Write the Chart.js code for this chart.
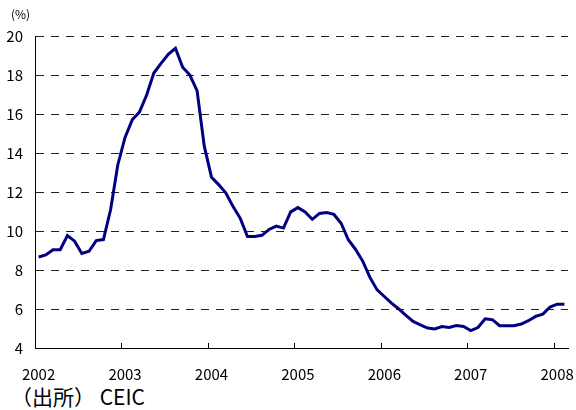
<!DOCTYPE html>
<html lang="ja">
<head>
<meta charset="utf-8">
<script src="https://cdn.jsdelivr.net/npm/chart.js@4/dist/chart.umd.min.js"></script>
<style>
    body { margin: 0; background: #fff; }
    #wrap { position: relative; width: 576px; height: 410px; font-family: "Noto Sans CJK JP", sans-serif; color: #000; }
    #grafico { position: absolute; left: 0; top: 0; }
    .unidad { position: absolute; left: 11px; top: 5px; font-size: 12px; }
    .fuente { position: absolute; left: 11px; top: 381px; font-size: 21px; }
</style>
</head>
<body>
<div id="wrap">
    <canvas id="grafico" width="576" height="380"></canvas>
    <div class="unidad">(%)</div>
    <div class="fuente">（出所） CEIC</div>
</div>
<script>
// datos mensuales: ene 2002 - feb 2008
const years = ['2002', '2003', '2004', '2005', '2006', '2007', '2008'];
const months = [];
years.forEach(y => {
    for (let m = 1; m <= 12; m++) months.push(y + '-' + m);
});
const categorias = months.slice(0, 74);

const tasa = [
    8.67, 8.77, 9.04, 9.04, 9.77, 9.48, 8.85, 8.96, 9.51, 9.56, 11.1, 13.4,
    14.8, 15.7, 16.1, 16.97, 18.1, 18.6, 19.06, 19.37, 18.4, 18.0, 17.2, 14.35,
    12.76, 12.38, 11.95, 11.25, 10.65, 9.72, 9.72, 9.78, 10.08, 10.25, 10.15, 10.98,
    11.2, 10.98, 10.6, 10.9, 10.95, 10.85, 10.4, 9.55, 9.06, 8.45, 7.62, 6.98,
    6.64, 6.3, 6.0, 5.67, 5.36, 5.19, 5.02, 4.98, 5.1, 5.05, 5.15, 5.1,
    4.89, 5.05, 5.5, 5.45, 5.14, 5.14, 5.14, 5.23, 5.4, 5.62, 5.74, 6.1,
    6.25, 6.25
];

const yTicks = [4, 6, 8, 10, 12, 14, 16, 18, 20];

// marcas de año hacia dentro del eje x
const marcasAnio = {
    id: 'marcasAnio',
    afterDraw(chart) {
        const x = chart.scales.x;
        const ctx = chart.ctx;
        const bottom = chart.chartArea.bottom;
        ctx.save();
        ctx.strokeStyle = '#000';
        ctx.lineWidth = 1;
        for (let i = 12; i < categorias.length; i += 12) {
            const px = Math.round((x.getPixelForValue(i - 1) + x.getPixelForValue(i)) / 2) + 0.5;
            ctx.beginPath();
            ctx.moveTo(px, bottom);
            ctx.lineTo(px, bottom - 5);
            ctx.stroke();
        }
        ctx.restore();
    }
};

const fuente = { family: '"Noto Sans CJK JP", sans-serif', size: 15 };

new Chart(document.getElementById('grafico').getContext('2d'), {
    type: 'line',
    data: {
        labels: categorias,
        datasets: [{
            data: tasa,
            borderColor: '#000080',
            borderWidth: 3,
            pointRadius: 0,
            tension: 0,
            fill: false
        }]
    },
    options: {
        responsive: false,
        animation: false,
        layout: { padding: { top: 36, right: 8, left: 0, bottom: 0 } },
        plugins: { legend: { display: false }, tooltip: { enabled: false } },
        scales: {
            x: {
                type: 'category',
                offset: true,
                grid: { display: false },
                border: { display: true, color: '#000', width: 1 },
                ticks: {
                    autoSkip: false,
                    maxRotation: 0,
                    minRotation: 0,
                    padding: 9,
                    color: '#000',
                    font: fuente,
                    callback: (v, i) => (i % 12 === 0 ? years[i / 12] : '')
                },
                afterFit: s => { s.height = 32; }
            },
            y: {
                min: 4,
                max: 20,
                afterBuildTicks: s => { s.ticks = yTicks.map(v => ({ value: v })); },
                grid: { color: '#222', lineWidth: 1, drawTicks: false },
                border: { display: true, color: '#000', width: 1, dash: [8, 7] },
                ticks: { padding: 12, color: '#000', font: fuente },
                afterFit: s => { s.width = 35; }
            }
        }
    },
    plugins: [marcasAnio]
});
</script>
</body>
</html>
